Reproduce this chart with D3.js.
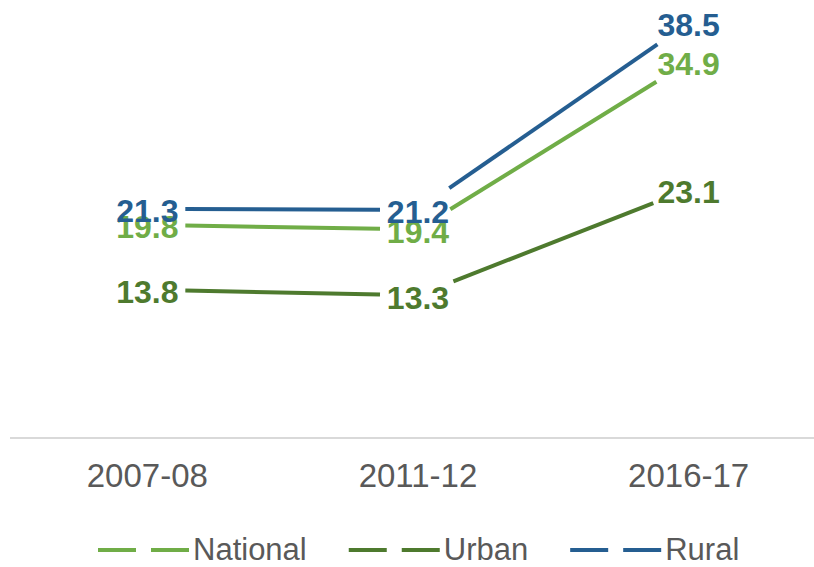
<!DOCTYPE html>
<html>
<head>
<meta charset="utf-8">
<script src="https://cdn.jsdelivr.net/npm/d3@7"></script>
<style>
  html, body { margin: 0; padding: 0; background: #fff; }
  svg { display: block; font-family: "Liberation Sans", Arial, sans-serif; }
</style>
</head>
<body>
<svg id="chart" width="814" height="567"></svg>
<script>
const categories = ["2007-08", "2011-12", "2016-17"];
const seriesNames = ["National", "Urban", "Rural"];
const nationalValues = [19.8, 19.4, 34.9];
const urbanValues = [13.8, 13.3, 23.1];
const ruralValues = [21.3, 21.2, 38.5];
const seriesColors = ["#70ad47", "#4e7a2e", "#255e91"];

const series = [
  { name: seriesNames[0], values: nationalValues, color: seriesColors[0] },
  { name: seriesNames[1], values: urbanValues, color: seriesColors[1] },
  { name: seriesNames[2], values: ruralValues, color: seriesColors[2] }
];
const svg = d3.select("#chart");

const x = d3.scaleBand().domain(categories).range([12, 824]);
const y = d3.scaleLinear().domain([0, 40]).range([439, 6.6]);
const cx = c => x(c) + x.bandwidth() / 2;

// axis line
svg.append("line")
  .attr("x1", 10).attr("x2", 814)
  .attr("y1", 438).attr("y2", 438)
  .attr("stroke", "#d9d9d9").attr("stroke-width", 2);

// category labels
svg.append("g").selectAll("text")
  .data(categories).join("text")
  .attr("x", d => cx(d))
  .attr("y", 487)
  .attr("text-anchor", "middle")
  .attr("font-size", 33)
  .attr("fill", "#595959")
  .text(d => d);

const gap = 38;
const linesG = svg.append("g");
series.forEach(s => {
  const pts = s.values.map((v, i) => [cx(categories[i]), y(v)]);
  for (let i = 0; i < pts.length - 1; i++) {
    const [x1, y1] = pts[i], [x2, y2] = pts[i + 1];
    const len = Math.hypot(x2 - x1, y2 - y1);
    const ux = (x2 - x1) / len, uy = (y2 - y1) / len;
    linesG.append("line")
      .attr("x1", x1 + ux * gap).attr("y1", y1 + uy * gap)
      .attr("x2", x2 - ux * gap).attr("y2", y2 - uy * gap)
      .attr("stroke", s.color)
      .attr("stroke-width", 4);
  }
});

const labelsG = svg.append("g");
series.forEach(s => {
  labelsG.append("g").selectAll("text")
    .data(s.values).join("text")
    .attr("x", (d, i) => cx(categories[i]))
    .attr("y", d => y(d) + 2)
    .attr("dy", "0.36em")
    .attr("text-anchor", "middle")
    .attr("font-size", 32)
    .attr("font-weight", "bold")
    .attr("fill", s.color)
    .text(d => d.toFixed(1));
});

// legend
const legend = svg.append("g");
let lx = 98;
const ly = 549;
series.forEach(s => {
  legend.append("line")
    .attr("x1", lx).attr("x2", lx + 92)
    .attr("y1", ly + 1).attr("y2", ly + 1)
    .attr("stroke", s.color)
    .attr("stroke-width", 4)
    .attr("stroke-dasharray", "38,15");
  const t = legend.append("text")
    .attr("x", lx + 95)
    .attr("y", ly)
    .attr("dy", "0.36em")
    .attr("font-size", 31)
    .attr("fill", "#595959")
    .text(s.name);
  lx += 95 + t.node().getComputedTextLength() + 42;
});
</script>
</body>
</html>
